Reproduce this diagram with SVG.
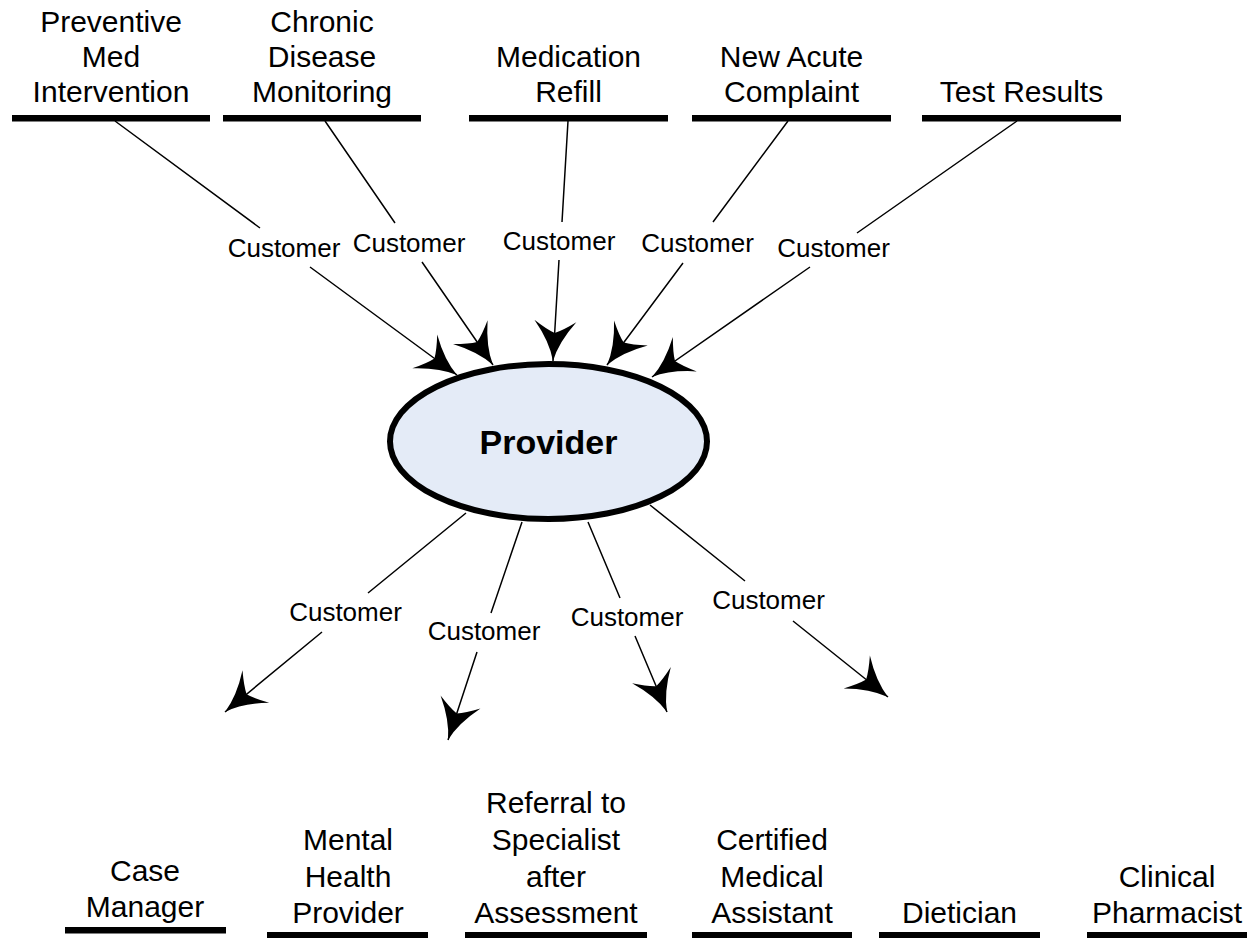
<svg xmlns="http://www.w3.org/2000/svg" width="1247" height="938" viewBox="0 0 1247 938">
  <style>
    .lbl { font-family: "Liberation Sans", Arial, sans-serif; font-size: 30px; fill: #000; text-anchor: middle; }
    .cust { font-family: "Liberation Sans", Arial, sans-serif; font-size: 26px; fill: #000; text-anchor: middle; }
    .hub { font-family: "Liberation Sans", Arial, sans-serif; font-size: 34px; font-weight: bold; fill: #000; text-anchor: middle; }
    .bar { fill: #000; }
    .edge { fill: none; stroke: #000; stroke-width: 1.5; marker-end: url(#barb); }
  </style>
  <defs>
    <!-- concave "barbed" arrowhead, tip at the origin pointing along +x -->
    <marker id="barb" markerUnits="userSpaceOnUse" viewBox="-45 -25 50 50" markerWidth="50" markerHeight="50" refX="0" refY="0" orient="auto">
      <path d="M0,0 Q-19,-4.5 -40,-21 Q-31,-8 -28,0 Q-31,8 -40,21 Q-19,4.5 0,0 Z" fill="#000"/>
    </marker>
  </defs>

  <rect width="1247" height="938" fill="#fff"/>

  <!-- incoming request types -->
  <g id="preventive">
    <text class="lbl" x="111" y="32">Preventive</text>
    <text class="lbl" x="111" y="67">Med</text>
    <text class="lbl" x="111" y="102">Intervention</text>
    <rect class="bar" x="12" y="115" width="198" height="6.5"/>
  </g>
  <g id="chronic">
    <text class="lbl" x="322" y="32">Chronic</text>
    <text class="lbl" x="322" y="67">Disease</text>
    <text class="lbl" x="322" y="102">Monitoring</text>
    <rect class="bar" x="223" y="115" width="198" height="6.5"/>
  </g>
  <g id="refill">
    <text class="lbl" x="568.5" y="67">Medication</text>
    <text class="lbl" x="568.5" y="102">Refill</text>
    <rect class="bar" x="469" y="115" width="199" height="6.5"/>
  </g>
  <g id="acute">
    <text class="lbl" x="791.5" y="67">New Acute</text>
    <text class="lbl" x="791.5" y="102">Complaint</text>
    <rect class="bar" x="692" y="115" width="199" height="6.5"/>
  </g>
  <g id="results">
    <text class="lbl" x="1021.5" y="102">Test Results</text>
    <rect class="bar" x="922" y="115" width="199" height="6.5"/>
  </g>

  <!-- central node -->
  <g id="provider">
    <ellipse cx="548.5" cy="441.5" rx="158.5" ry="77.5" fill="#e4ebf7" stroke="#000" stroke-width="6"/>
    <text class="hub" x="548.5" y="454">Provider</text>
  </g>

  <!-- downstream roles -->
  <g id="case-manager">
    <text class="lbl" x="145" y="881">Case</text>
    <text class="lbl" x="145" y="917">Manager</text>
    <rect class="bar" x="65" y="927" width="161" height="6.5"/>
  </g>
  <g id="mental-health">
    <text class="lbl" x="348" y="850">Mental</text>
    <text class="lbl" x="348" y="887">Health</text>
    <text class="lbl" x="348" y="923">Provider</text>
    <rect class="bar" x="267" y="932" width="161" height="6.5"/>
  </g>
  <g id="referral">
    <text class="lbl" x="556" y="813">Referral to</text>
    <text class="lbl" x="556" y="850">Specialist</text>
    <text class="lbl" x="556" y="887">after</text>
    <text class="lbl" x="556" y="923">Assessment</text>
    <rect class="bar" x="465" y="932" width="182" height="6.5"/>
  </g>
  <g id="cma">
    <text class="lbl" x="772" y="850">Certified</text>
    <text class="lbl" x="772" y="887">Medical</text>
    <text class="lbl" x="772" y="923">Assistant</text>
    <rect class="bar" x="692" y="932" width="160" height="6.5"/>
  </g>
  <g id="dietician">
    <text class="lbl" x="959.5" y="923">Dietician</text>
    <rect class="bar" x="879" y="932" width="161" height="6.5"/>
  </g>
  <g id="pharmacist">
    <text class="lbl" x="1167" y="887">Clinical</text>
    <text class="lbl" x="1167" y="923">Pharmacist</text>
    <rect class="bar" x="1087" y="932" width="160" height="6.5"/>
  </g>

  <!-- connectors with their labels -->
  <g id="connectors">
    <path class="edge" d="M115,121 L260,228 M310,267 L457,375"/>
    <path class="edge" d="M325,121 L395,223 M422,262 L493,365"/>
    <path class="edge" d="M568,121 L562,222 M559,260 L553,361"/>
    <path class="edge" d="M788,121 L713,222 M683,263 L607,365"/>
    <path class="edge" d="M1017,121 L857,233 M810,267 L652,377"/>
    <path class="edge" d="M466,513 L368,593 M322,632 L225,712"/>
    <path class="edge" d="M522,522 L491,613 M477,652 L448,740"/>
    <path class="edge" d="M588,522 L620,598 M635,636 L667,712"/>
    <path class="edge" d="M650,505 L745,581 M793,621 L888,697"/>

    <text class="cust" x="284" y="257">Customer</text>
    <text class="cust" x="409" y="252">Customer</text>
    <text class="cust" x="559" y="250">Customer</text>
    <text class="cust" x="697.5" y="252">Customer</text>
    <text class="cust" x="833.5" y="257">Customer</text>
    <text class="cust" x="345.5" y="621">Customer</text>
    <text class="cust" x="484" y="640">Customer</text>
    <text class="cust" x="627" y="626">Customer</text>
    <text class="cust" x="768.5" y="609">Customer</text>
  </g>
</svg>
